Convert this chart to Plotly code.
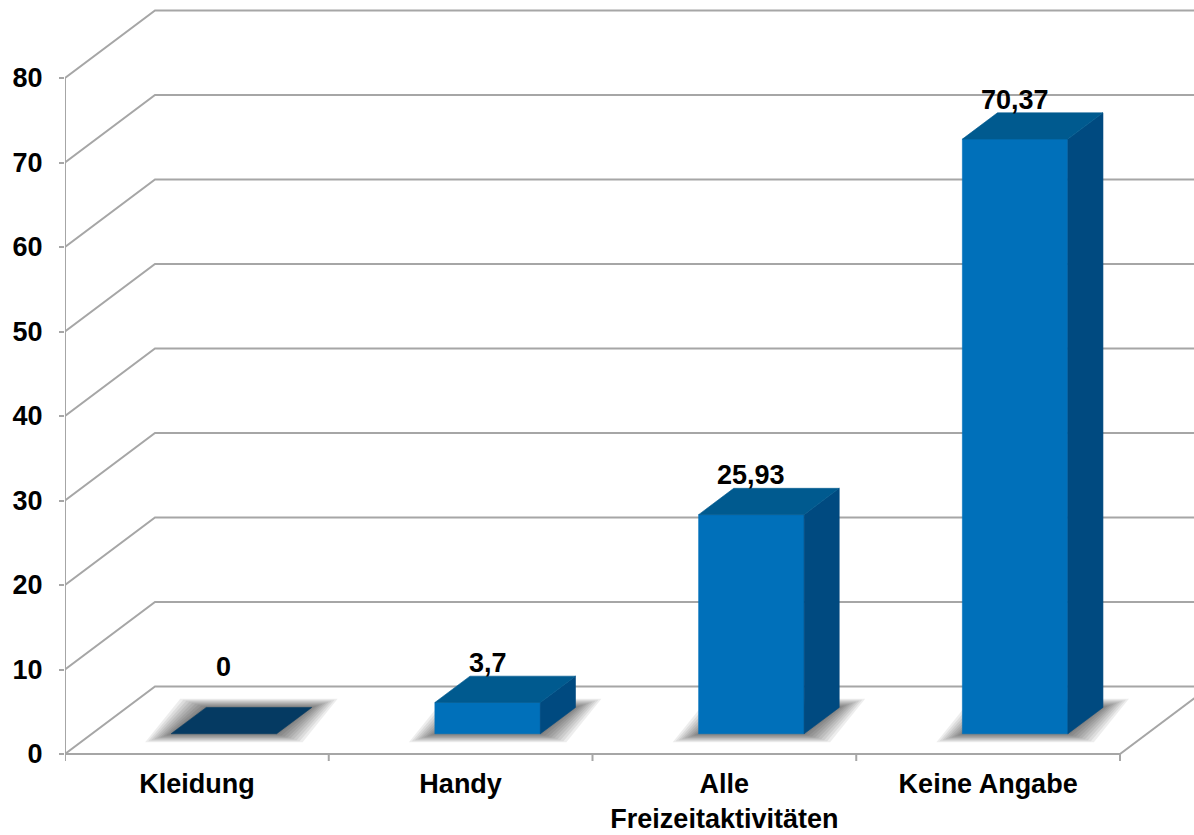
import plotly.graph_objects as go

# ---------------- data ----------------
categories = ["Kleidung", "Handy", "Alle<br>Freizeitaktivitäten", "Keine Angabe"]
values = [0, 3.7, 25.93, 70.37]
value_labels = ["0", "3,7", "25,93", "70,37"]
y_ticks = [0, 10, 20, 30, 40, 50, 60, 70, 80]

# ---------------- pseudo-3D geometry (data units) ----------------
PX_X = 263.75          # pixels per category unit
PX_Y = 8.45            # pixels per value unit
DX = 90 / PX_X         # full depth vector, x part
DY = 67.5 / PX_Y       # full depth vector, y part
F0, F1 = 0.30, 0.69    # bar front / back depth fraction
W = 0.40               # bar width (category units)
X0, X1 = -0.5, len(categories) - 0.5

ML, MB, WID, HEI = 65, 72, 1194, 835
x_range = [X0, X0 + (WID - ML) / PX_X]
plot_h = HEI - MB
zero_px = 754
y_range = [-(plot_h - zero_px) / PX_Y, zero_px / PX_Y]

GRID = "rgb(166,166,166)"
FRONT = "#0070BA"
TOP = "#005A8F"
SIDE = "#004A80"
FLAT = "#053A62"
FS = 27

def P(x, y, d):
    return x + d * DX, y + d * DY

fig = go.Figure()

def line(xs, ys, color=GRID, width=2):
    fig.add_trace(go.Scatter(x=xs, y=ys, mode="lines",
                             line=dict(color=color, width=width),
                             hoverinfo="skip", showlegend=False))

def poly(pts, color, lw=0.6, lc=None):
    xs = [p[0] for p in pts] + [pts[0][0]]
    ys = [p[1] for p in pts] + [pts[0][1]]
    fig.add_trace(go.Scatter(x=xs, y=ys, mode="lines", fill="toself",
                             fillcolor=color,
                             line=dict(color=lc or color, width=lw),
                             hoverinfo="skip", showlegend=False))

# back wall gridlines with left diagonals
for t in y_ticks:
    a = P(X0, t, 0)
    b = P(X0, t, 1)
    c = P(X1, t, 1)
    line([a[0], b[0], c[0]], [a[1], b[1], c[1]])

# y axis line
line([X0, X0], [0, y_ticks[-1]])

# floor front and right edge
fr = P(X1, 0, 1)
line([X0, X1, fr[0]], [0, 0, fr[1]])

# x tick marks at category boundaries
tx, ty = [], []
k = X0
while k <= X1 + 1e-9:
    tx += [k, k, None]
    ty += [0, -7 / PX_Y, None]
    k += 1
line(tx, ty)

# shadows (soft, layered)
for i, v in enumerate(values):
    xl, xr = i - W / 2, i + W / 2
    for e in [26, 23, 20, 17, 14, 11, 8, 5, 2]:
        ex, ey = e / PX_X, e * 0.33 / PX_Y
        fl = P(xl, 0, F0); frr = P(xr, 0, F0)
        br = P(xr, 0, F1); bl = P(xl, 0, F1)
        pts = [(fl[0] - ex, fl[1] - ey), (frr[0] + ex, frr[1] - ey),
               (br[0] + ex, br[1] + ey), (bl[0] - ex, bl[1] + ey)]
        poly(pts, "rgba(0,0,0,0.07)", lw=0)

# bars
for i, v in enumerate(values):
    xl, xr = i - W / 2, i + W / 2
    if v == 0:
        poly([P(xl, 0, F0), P(xr, 0, F0), P(xr, 0, F1), P(xl, 0, F1)], FLAT)
        continue
    poly([P(xl, 0, F0), P(xr, 0, F0), P(xr, v, F0), P(xl, v, F0)], FRONT)
    poly([P(xr, 0, F0), P(xr, 0, F1), P(xr, v, F1), P(xr, v, F0)], SIDE)
    poly([P(xl, v, F0), P(xr, v, F0), P(xr, v, F1), P(xl, v, F1)], TOP)

# value labels
for i, (v, lab) in enumerate(zip(values, value_labels)):
    lx, ly = P(i, max(v, 3.3), F1)
    fig.add_annotation(x=i + F0 * DX, y=ly, text=f"<b>{lab}</b>", showarrow=False,
                       yanchor="bottom", xanchor="center", yshift=-4,
                       font=dict(family="Liberation Sans", size=FS, color="black"))

fig.update_layout(
    width=WID, height=HEI, autosize=False,
    margin=dict(l=ML, r=0, t=0, b=MB, autoexpand=False),
    paper_bgcolor="white", plot_bgcolor="white",
    font=dict(family="Liberation Sans", color="black"),
    xaxis=dict(range=x_range, showgrid=False, zeroline=False, showline=False,
               tickmode="array", tickvals=list(range(len(categories))),
               ticktext=[f"<b>{c.replace('<br>', '</b><br><b>')}</b>" for c in categories],
               ticks="", ticklabelstandoff=2,
               tickfont=dict(size=FS, family="Liberation Sans", color="black"),
               fixedrange=True, automargin=False),
    yaxis=dict(range=y_range, showgrid=False, zeroline=False, showline=False,
               tickmode="array", tickvals=y_ticks,
               ticktext=[f"<b>{t}</b>" for t in y_ticks],
               ticks="outside", ticklen=5, tickwidth=2, tickcolor=GRID,
               ticklabelstandoff=11,
               tickfont=dict(size=FS, family="Liberation Sans", color="black"),
               fixedrange=True, automargin=False),
)

fig.write_html("out.html", config={"displayModeBar": False},
               post_script="document.body.style.margin='0';")
